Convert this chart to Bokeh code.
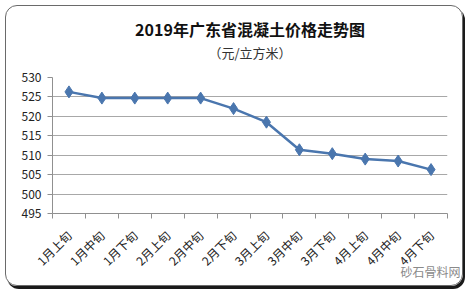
from bokeh.plotting import figure
from bokeh.models import Range1d, FixedTicker, Title, ColumnDataSource
from bokeh.embed import file_html
from bokeh.resources import INLINE
import math

categories = ["1月上旬", "1月中旬", "1月下旬", "2月上旬", "2月中旬", "2月下旬",
              "3月上旬", "3月中旬", "3月下旬", "4月上旬", "4月中旬", "4月下旬"]
prices = [526.3, 524.7, 524.7, 524.7, 524.7, 522.0, 518.5, 511.4, 510.4, 509.0, 508.5, 506.3]
y_ticks = [495, 500, 505, 510, 515, 520, 525, 530]

FONT = "Noto Sans CJK SC"
LINE = "#4a76ae"

xs = list(range(1, len(categories) + 1))
src = ColumnDataSource(dict(x=xs, y=prices))

p = figure(width=468, height=294, output_backend="svg", toolbar_location=None,
           x_range=Range1d(0.5, len(categories) + 0.5), y_range=Range1d(495, 530),
           min_border_left=52, min_border_right=21, min_border_bottom=81, min_border_top=77)
p.stylesheets = [
    ":host { position: relative; }",
    ":host::before { content: ''; position: absolute; left: 5px; top: 5px; width: 456px; "
    "height: 279px; border: 1px solid #6a6a6a; border-radius: 12px; "
    "box-shadow: 2px 3px 0px #1a1a1a; pointer-events: none; z-index: 5; }",
]
p.outline_line_color = None
p.background_fill_color = "white"
p.border_fill_color = "white"

p.title.text = "2019年广东省混凝土价格走势图"
p.title.align = "center"
p.title.text_font = FONT
p.title.text_font_size = "16px"
p.title.text_font_style = "bold"
p.title.text_color = "#111111"
p.title.standoff = 0

# spacer between subtitle and plot area (innermost "above" item)
spacer = Title(text=" ", align="center", text_font=FONT, text_font_size="1px", standoff=12)
p.add_layout(spacer, "above")
sub = Title(text="（元/立方米）", align="center", text_font=FONT, text_font_size="13px",
            text_font_style="normal", text_color="#333333", standoff=1)
p.add_layout(sub, "above")

p.line("x", "y", source=src, line_color=LINE, line_width=2.5)
p.scatter("x", "y", source=src, marker="diamond", size=12, fill_color=LINE, line_color=LINE)

yax = p.yaxis[0]
yax.ticker = FixedTicker(ticks=y_ticks)
yax.axis_line_color = "#909090"
yax.major_tick_line_color = "#909090"
yax.major_tick_out = 5
yax.major_tick_in = 0
yax.minor_tick_line_color = None
yax.major_label_text_font = FONT
yax.major_label_text_font_size = "12px"
yax.major_label_text_color = "#222222"
yax.major_label_standoff = 6

xax = p.xaxis[0]
xax.ticker = FixedTicker(ticks=xs, minor_ticks=[i + 0.5 for i in range(0, len(categories) + 1)])
xax.major_label_overrides = {i + 1: c for i, c in enumerate(categories)}
xax.major_tick_line_color = None
xax.minor_tick_line_color = "#909090"
xax.minor_tick_out = 5
xax.minor_tick_in = 0
xax.axis_line_color = "#909090"
xax.major_label_orientation = math.pi / 4
xax.major_label_text_font = FONT
xax.major_label_text_font_size = "12px"
xax.major_label_text_color = "#222222"
xax.major_label_standoff = 13

p.xgrid.grid_line_color = None
p.ygrid.ticker = FixedTicker(ticks=y_ticks)
p.ygrid.grid_line_color = "#a8a8a8"
p.ygrid.grid_line_width = 1

wm = Title(text="砂石骨料网", align="right", text_font=FONT, text_font_size="12px",
           text_font_style="normal", text_color="#8a8a8a", standoff=0, offset=-13,
           vertical_align="top")
try:
    wm.standoff = -30
except Exception:
    pass
p.add_layout(wm, "below")

open("out.html", "w").write(file_html(p, INLINE))
